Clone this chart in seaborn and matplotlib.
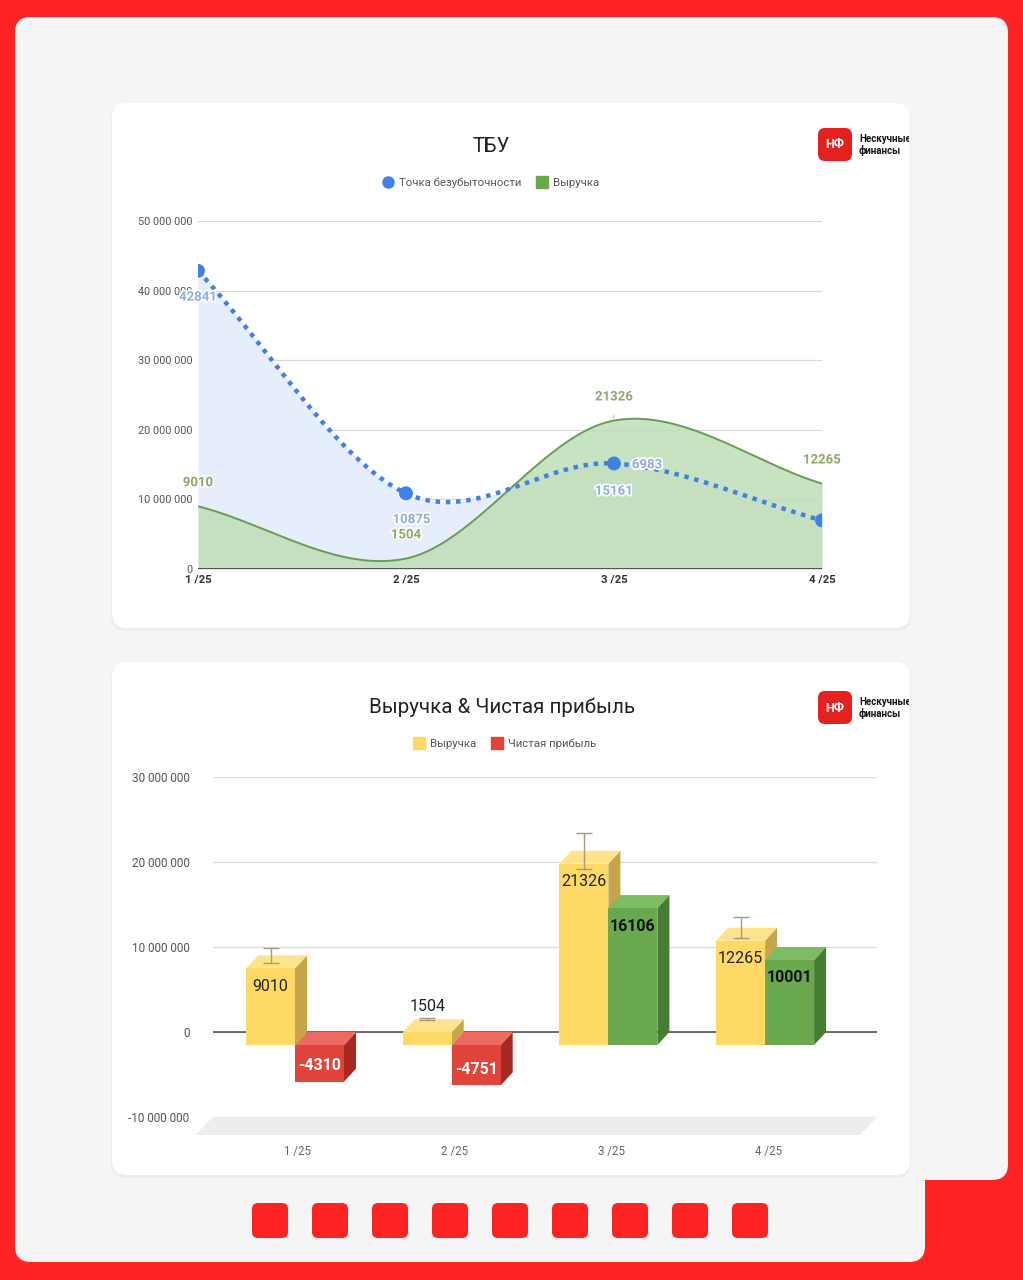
import numpy as np
import matplotlib
matplotlib.use("Agg")
import matplotlib.pyplot as plt
import matplotlib.patheffects as pe
import seaborn as sns
from matplotlib.patches import FancyBboxPatch, Polygon
from matplotlib.lines import Line2D
from matplotlib.ticker import FuncFormatter
from matplotlib.transforms import Bbox

# data (thousands of rubles)
months = ["1 /25", "2 /25", "3 /25", "4 /25"]
breakeven_k = [42841, 10875, 15161, 6983]
revenue_k = [9010, 1504, 21326, 12265]
profit_k = [-4310, -4751, 16106, 10001]

W, H = 1023, 1280
RED = "#FE2424"
BLUE = "#3F81E6"
GREEN_LINE = "#6A9B55"
YELLOW = ("#FFD966", "#FFE38C", "#C7A54C")   # front, top, side
GREEN = ("#6AA84F", "#7EBC63", "#467C33")
REDBAR = ("#E0443B", "#EC6A61", "#A8291F")

sns.set_theme(style="white")
plt.rcParams["font.family"] = ["Roboto", "DejaVu Sans"]

fig = plt.figure(figsize=(W / 100, H / 100), dpi=100)
fig.patch.set_facecolor(RED)

# background layer in pixel coordinates
bg = fig.add_axes([0, 0, 1, 1], zorder=0)
bg.set_xlim(0, W)
bg.set_ylim(H, 0)
bg.axis("off")


def rbox(x0, y0, x1, y1, color, r=15, z=1):
    p = FancyBboxPatch((x0, y0), x1 - x0, y1 - y0,
                       boxstyle=f"round,pad=0,rounding_size={r}",
                       fc=color, ec="none", zorder=z)
    bg.add_patch(p)
    return p


# grey panel with the red notch
rbox(15, 17, 1008, 1180, "#F5F5F5", 16)
rbox(15, 17, 925, 1262, "#F5F5F5", 16)
rbox(925, 1180, 1060, 1320, RED, 16, z=2)
for k in range(9):
    rbox(252 + 60 * k, 1203, 288 + 60 * k, 1238, RED, 6, z=2)

# white cards
for top, bot in [(103, 628), (662, 1175)]:
    rbox(111, top + 1, 911, bot + 3, "#ECECEC", 16, z=2)
    rbox(112, top, 910, bot, "white", 15, z=3)

# logos
clip = Bbox.from_extents(0, 0, 909, H)
for ly in (144, 707):
    rbox(818, ly - 16, 852, ly + 17, "#E3211F", 7, z=4)
    bg.text(835, ly + 1, "НФ", color="white", fontsize=9, fontweight="bold",
            ha="center", va="center", zorder=5)
    t = bg.text(859, ly + 1, "Нескучные\nфинансы", color="#151515", fontsize=7,
                fontweight="bold", ha="left", va="center", linespacing=1.05,
                zorder=5, clip_on=True)
    t.set_clip_box(clip)

# titles and legends
bg.text(491, 147, "ТБУ", fontsize=14.5, color="#222", ha="center", va="center", zorder=5)
bg.text(502, 707, "Выручка & Чистая прибыль", fontsize=14.8, color="#222",
        ha="center", va="center", zorder=5)

leg1 = bg.legend(handles=[
    Line2D([], [], ls="", marker="o", color=BLUE, markersize=8, label="Точка безубыточности"),
    Line2D([], [], ls="", marker="s", color="#6AA84F", markersize=8, label="Выручка")],
    loc="center", bbox_to_anchor=(491 / W, 1 - 183 / H), bbox_transform=fig.transFigure,
    ncol=2, frameon=False, fontsize=8.2, labelcolor="#555", handlelength=0.9,
    handletextpad=0.5, columnspacing=1.4)
leg1.set_zorder(5)
bg.add_artist(leg1)
leg2 = bg.legend(handles=[
    Line2D([], [], ls="", marker="s", color=YELLOW[0], markersize=8, label="Выручка"),
    Line2D([], [], ls="", marker="s", color=REDBAR[0], markersize=8, label="Чистая прибыль")],
    loc="center", bbox_to_anchor=(505 / W, 1 - 744 / H), bbox_transform=fig.transFigure,
    ncol=2, frameon=False, fontsize=8.2, labelcolor="#555", handlelength=0.9,
    handletextpad=0.5, columnspacing=1.4)
leg2.set_zorder(5)

# 3D floor of chart 2
bg.add_patch(Polygon([(213, 1117), (877, 1117), (860, 1135), (195, 1135)],
                     closed=True, fc="#EDEDED", ec="none", zorder=4))


def box(x0, y0, x1, y1):
    return [x0 / W, 1 - y1 / H, (x1 - x0) / W, (y1 - y0) / H]


def smooth(vals, n=50):
    y = np.asarray(vals, float)
    m = np.gradient(y)
    xs, ys = [], []
    for i in range(len(y) - 1):
        t = np.linspace(0, 1, n, endpoint=False)
        h00 = 2 * t**3 - 3 * t**2 + 1
        h10 = t**3 - 2 * t**2 + t
        h01 = -2 * t**3 + 3 * t**2
        h11 = t**3 - t**2
        xs.append(i + t)
        ys.append(h00 * y[i] + h10 * m[i] + h01 * y[i + 1] + h11 * m[i + 1])
    xs.append([len(y) - 1])
    ys.append([y[-1]])
    return np.concatenate(xs), np.concatenate(ys)


fmt = FuncFormatter(lambda v, _: f"{v:,.0f}".replace(",", " "))
halo = [pe.withStroke(linewidth=2.5, foreground="white")]

# ---------- chart 1: ТБУ ----------
ax1 = fig.add_axes(box(198, 221, 822, 569), zorder=2)
ax1.set_facecolor("none")
be = np.array(breakeven_k) * 1000
rev = np.array(revenue_k) * 1000
bx, by = smooth(be)
gx, gy = smooth(rev)

ax1.fill_between(bx, by, 0, color="#E6EEFB", lw=0, zorder=1)
ax1.fill_between(gx, gy, 0, color="#BFDEB6", alpha=0.85, lw=0, zorder=2)
sns.lineplot(x=gx, y=gy, ax=ax1, color=GREEN_LINE, lw=1.4, estimator=None, sort=False, zorder=3)
sns.lineplot(x=bx, y=by, ax=ax1, color=BLUE, lw=3.2, estimator=None, sort=False,
             linestyle=(0, (1, 1.3)), zorder=4)
sns.scatterplot(x=np.arange(4), y=be, ax=ax1, color=BLUE, s=100, edgecolor="none",
                zorder=5, clip_on=True)
ax1.axhline(0, color="#444", lw=1.3, zorder=3)

ax1.set_xlim(0, 3)
ax1.set_ylim(0, 50e6)
ax1.set_yticks(np.arange(0, 50e6 + 1, 10e6))
ax1.yaxis.set_major_formatter(fmt)
ax1.set_xticks(range(4), months)
ax1.grid(axis="y", color="#D9D9D9", lw=0.9)
ax1.set_axisbelow(True)
for s in ax1.spines.values():
    s.set_visible(False)
ax1.tick_params(axis="y", length=0, pad=4, labelsize=7.8, labelcolor="#555")
ax1.tick_params(axis="x", length=0, pad=4, labelsize=8.2, labelcolor="#333")
for lab in ax1.get_xticklabels():
    lab.set_fontweight("bold")

for i, v in enumerate(revenue_k):
    kw = dict(arrowprops=dict(arrowstyle="-", color="#C8C8C8", lw=0.8, shrinkA=6, shrinkB=1)) \
        if v == max(revenue_k) else {}
    ax1.annotate(str(v), xy=(i, v * 1000), xytext=(0, 17), textcoords="offset points",
                 ha="center", va="center", fontsize=9.5, fontweight="bold", color="#8FA86A",
                 path_effects=halo, zorder=6, **kw)
be_offsets = [(0, -19), (4, -19), (0, -20), (-126, 40)]
for i, v in enumerate(breakeven_k):
    ax1.annotate(str(v), xy=(i, v * 1000), xytext=be_offsets[i], textcoords="offset points",
                 ha="center", va="center", fontsize=9.5, fontweight="bold", color="#93AEDD",
                 path_effects=halo, zorder=6, annotation_clip=False)

# ---------- chart 2: Выручка & Чистая прибыль ----------
ax2 = fig.add_axes(box(213, 777, 877, 1117), zorder=2)
ax2.set_facecolor("none")
step = 156.7
ax2.set_xlim((213 - 295) / step, (877 - 295) / step)
ax2.set_ylim(-10e6, 30e6)
ppy = 340 / 40e6
DX = 12 / step
DY = 13 / ppy
bw = 49 / step
px = 1 / ppy  # one pixel in y data units


def bar3d(x0, v, cols):
    x1 = x0 + bw
    top, bot = max(v, 0), min(v, 0)
    front, topc, side = cols
    ax2.add_patch(Polygon([(x1, bot - DY), (x1, top - DY), (x1 + DX, top), (x1 + DX, bot)],
                          closed=True, fc=side, ec="none", zorder=3))
    ax2.add_patch(Polygon([(x0, top - DY), (x1, top - DY), (x1 + DX, top), (x0 + DX, top)],
                          closed=True, fc=topc, ec="none", zorder=3))
    ax2.add_patch(Polygon([(x0, bot - DY), (x1, bot - DY), (x1, top - DY), (x0, top - DY)],
                          closed=True, fc=front, ec="none", zorder=3))


for i in range(4):
    rv = revenue_k[i] * 1000
    pv = profit_k[i] * 1000
    bar3d(i - bw, rv, YELLOW)
    bar3d(i, pv, GREEN if pv > 0 else REDBAR)
    ax2.errorbar(i - bw / 2, rv, yerr=0.1 * rv, color="#A89C78", lw=1, capsize=6,
                 capthick=1, zorder=4)
    # revenue label
    if rv - DY > 25 * px:
        ax2.text(i - bw / 2, rv - DY - 18 * px, str(revenue_k[i]), ha="center", va="center",
                 fontsize=11.5, color="#222", zorder=5)
    else:
        ax2.text(i - bw / 2, rv + 13 * px, str(revenue_k[i]), ha="center", va="center",
                 fontsize=11.5, color="#222", zorder=5)
    # profit label
    if pv > 0:
        ax2.text(i + bw / 2, pv - DY - 18 * px, str(profit_k[i]), ha="center", va="center",
                 fontsize=11.5, fontweight="bold", color="#111", zorder=5)
    else:
        ax2.text(i + bw / 2, pv - DY + 16 * px, str(profit_k[i]), ha="center", va="center",
                 fontsize=11.5, fontweight="bold", color="white", zorder=5)

ax2.axhline(0, color="#555", lw=1.2, zorder=2)
ax2.set_yticks(np.arange(-10e6, 30e6 + 1, 10e6))
ax2.yaxis.set_major_formatter(fmt)
ax2.set_xticks([i + 3 / step for i in range(4)], months)
ax2.grid(axis="y", color="#DCDCDC", lw=0.9)
ax2.set_axisbelow(True)
for s in ax2.spines.values():
    s.set_visible(False)
ax2.tick_params(axis="y", length=0, pad=17, labelsize=8.5, labelcolor="#555")
ax2.tick_params(axis="x", length=0, pad=20, labelsize=8.3, labelcolor="#666")

fig.savefig("out.png", dpi=100)
